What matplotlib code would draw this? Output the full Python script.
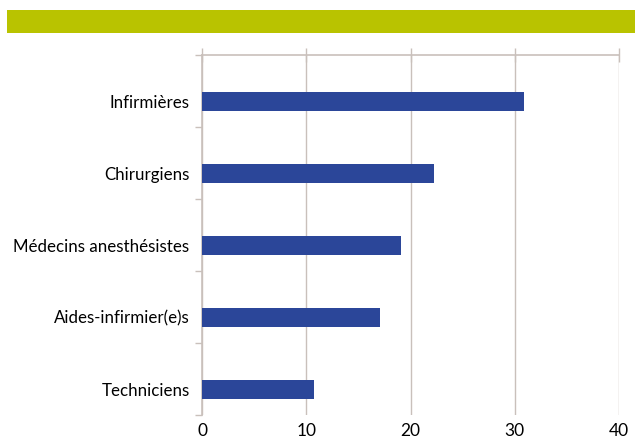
import matplotlib
matplotlib.use("Agg")
import matplotlib.pyplot as plt
from matplotlib.patches import Rectangle
import numpy as np

categories = ["Infirmières", "Chirurgiens", "Médecins anesthésistes", "Aides-infirmier(e)s", "Techniciens"]
values = [30.9, 22.3, 19.1, 17.1, 10.7]
xticks = [0, 10, 20, 30, 40]

plt.rcParams['font.family'] = ['Lato', 'DejaVu Sans']

bar_color = "#2B4699"
grid_color = "#C9C0BB"
band_color = "#B9C300"

fig = plt.figure(figsize=(6.35, 4.42), dpi=100)
fig.patch.set_facecolor("white")

# green header band
fig.add_artist(Rectangle((7/635, 1-33/442), 1-7/635, 23/442, transform=fig.transFigure,
                         facecolor=band_color, edgecolor="none"))

ax = fig.add_axes([202/635, 1-415/442, (619-202)/635, (415-55)/442])
y = np.arange(len(categories))
offset = 0.14
ax.barh(y + offset, values, height=0.265, color=bar_color, zorder=3)
ax.set_xlim(0, 40)
ax.set_ylim(len(categories)-0.5, -0.5)
ax.set_xticks(xticks)
ax.set_xticklabels([str(t) for t in xticks], fontsize=12.5)
ax.set_yticks(y + offset)
ax.set_yticklabels(categories, fontsize=12.2)
ax.set_yticks(np.arange(-0.5, len(categories)), minor=True)

ax.grid(axis='x', color=grid_color, linewidth=1.0, zorder=0)
for s in ['right', 'bottom']:
    ax.spines[s].set_visible(False)
for s in ['left', 'top']:
    ax.spines[s].set_color(grid_color)
    ax.spines[s].set_linewidth(1.2)

ax.tick_params(axis='x', bottom=False, top=True, labelbottom=True, labeltop=False,
               direction='inout', length=10, color=grid_color, width=1, pad=1)
ax.tick_params(axis='y', which='major', length=0, pad=9)
ax.tick_params(axis='y', which='minor', length=5, color=grid_color, width=1, direction='out')

fig.savefig("out.png", dpi=100, facecolor="white")
